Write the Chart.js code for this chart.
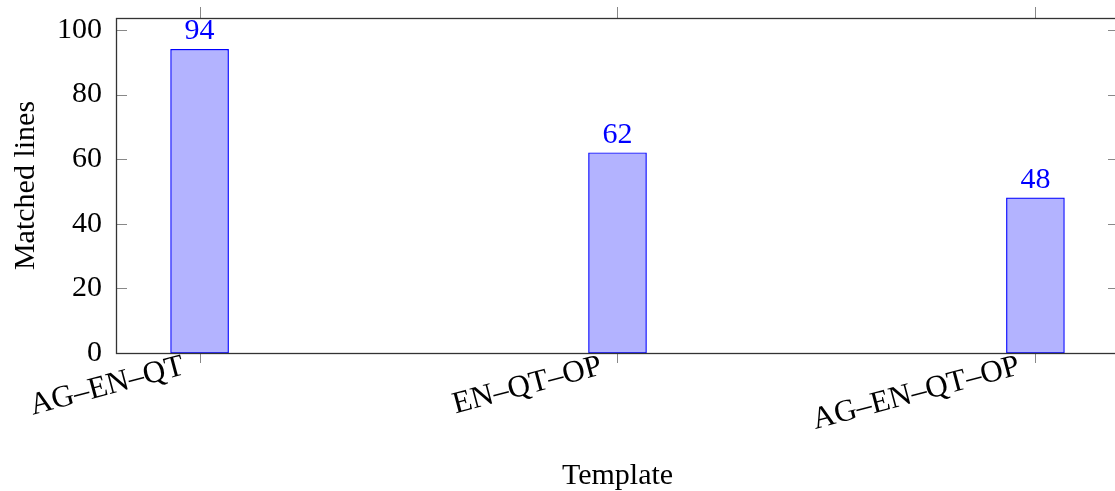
<!DOCTYPE html>
<html><head><meta charset="utf-8">
<script src="https://cdn.jsdelivr.net/npm/chart.js@4"></script>
<style>html,body{margin:0;padding:0;overflow:hidden;background:#fff}#wrap{width:1120px;height:491px}</style>
</head><body><div id="wrap"><canvas id="c" width="1120" height="491"></canvas></div>
<script>
const categories = ['AG–EN–QT', 'EN–QT–OP', 'AG–EN–QT–OP'];
const matchedLines = [94, 62, 48];
const xPositions = [0, 1, 2];
const yTicks = [0, 20, 40, 60, 80, 100];

const FONT = '"Liberation Serif", "Times New Roman", serif';
Chart.defaults.font.family = FONT;
Chart.defaults.color = '#000';

const tickPlugin = {
  id: 'pgfTicks',
  afterDraw(chart) {
    const {ctx, chartArea: a, scales: {x, y}} = chart;
    ctx.save();
    ctx.strokeStyle = '#888';
    ctx.lineWidth = 1;
    ctx.beginPath();
    xPositions.forEach(v => {
      const px = Math.round(x.getPixelForValue(v)) + 0.5;
      ctx.moveTo(px, a.top - 11); ctx.lineTo(px, a.top);
      ctx.moveTo(px, a.bottom); ctx.lineTo(px, a.bottom + 10);
    });
    yTicks.forEach(v => {
      const py = Math.round(y.getPixelForValue(v)) + 0.5;
      ctx.moveTo(a.left, py); ctx.lineTo(a.left + 11, py);
      ctx.moveTo(a.right - 11, py); ctx.lineTo(a.right, py);
    });
    ctx.stroke();
    ctx.strokeStyle = '#333';
    ctx.lineWidth = 1.3;
    ctx.strokeRect(Math.round(a.left) + 0.5, Math.round(a.top) + 0.5, a.right - a.left, a.bottom - a.top);
    ctx.restore();
  }
};

const valuePlugin = {
  id: 'values',
  afterDatasetsDraw(chart) {
    const {ctx} = chart;
    const meta = chart.getDatasetMeta(0);
    ctx.save();
    ctx.fillStyle = 'rgb(0,0,255)';
    ctx.font = '30px ' + FONT;
    ctx.textAlign = 'center';
    ctx.textBaseline = 'alphabetic';
    meta.data.forEach((bar, i) => {
      ctx.fillText(String(matchedLines[i]), bar.x, bar.y - 10);
    });
    ctx.restore();
  }
};

new Chart(document.getElementById('c'), {
  type: 'bar',
  data: {
    datasets: [{
      data: xPositions.map((v, i) => ({x: v, y: matchedLines[i]})),
      backgroundColor: 'rgb(179,179,255)',
      borderColor: 'rgb(0,0,255)',
      borderWidth: 1.2,
      borderSkipped: false,
      barThickness: 58
    }]
  },
  options: {
    responsive: false,
    animation: false,
    devicePixelRatio: 1,
    layout: {padding: {top: 18, right: 1, left: 0, bottom: 0}},
    plugins: {legend: {display: false}, tooltip: {enabled: false}},
    scales: {
      x: {
        type: 'linear',
        offset: false,
        min: -0.2,
        max: 2.2,
        grid: {display: false, drawTicks: false, offset: false},
        border: {display: false},
        afterBuildTicks: s => { s.ticks = xPositions.map(v => ({value: v})); },
        afterFit: s => { s.height = 138; s.paddingLeft = 0; s.paddingRight = 0; },
        ticks: {
          autoSkip: false,
          minRotation: 15,
          maxRotation: 15,
          padding: -2,
          labelOffset: -16,
          font: {size: 31, lineHeight: 1},
          callback: v => categories[v]
        },
        title: {display: true, text: 'Template', font: {size: 30, lineHeight: 1}, padding: {top: 0, bottom: 0}}
      },
      y: {
        min: 0,
        max: 103.7,
        grid: {display: false, drawTicks: false},
        border: {display: false},
        afterBuildTicks: s => { s.ticks = yTicks.map(v => ({value: v})); },
        afterFit: s => { s.width = 116; s.paddingTop = 0; s.paddingBottom = 0; },
        ticks: {padding: 14, font: {size: 30}},
        title: {display: true, text: 'Matched lines', font: {size: 30, lineHeight: 1}, padding: {top: 11, bottom: 0}}
      }
    }
  },
  plugins: [tickPlugin, valuePlugin]
});
</script>
</body></html>
